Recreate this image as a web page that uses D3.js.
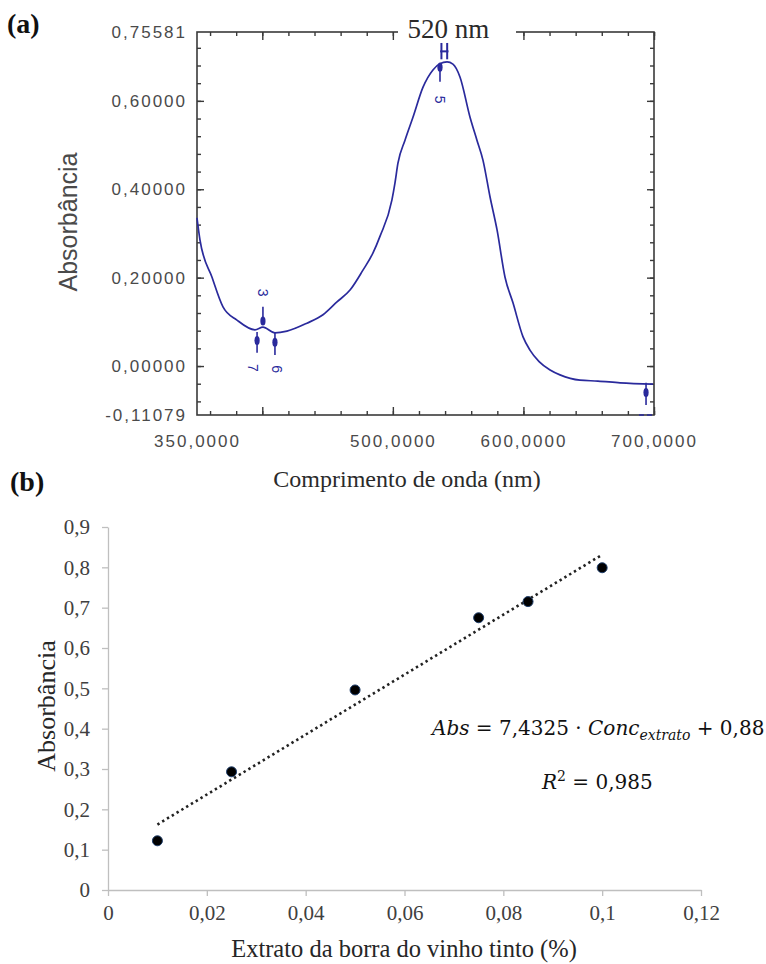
<!DOCTYPE html>
<html>
<head>
<meta charset="utf-8">
<script src="https://cdn.jsdelivr.net/npm/d3@7"></script>
<style>
  body { margin: 0; background: #fff; }
  svg { display: block; }
</style>
</head>
<body>
<svg id="chart" width="766" height="964"></svg>
<script>
// ---------- (a) UV-Vis absorption spectrum ----------
const wavelength = [350, 352.3, 361.5, 369.9, 380.6, 394.4, 400.5, 409.7, 418.9, 434.2,
  446.5, 457.2, 467.2, 477.1, 484.8, 490.2, 499.3, 501.6, 503.9, 509.3,
  515.4, 523.1, 530.7, 536, 541.5, 546, 551.4, 559.1, 564.4, 569.0,
  574.4, 579.8, 585.9, 592.0, 599.7, 605.0, 612, 620.4, 628.0, 643.3,
  657.1, 674.0, 699.2];
const absorbance = [0.335, 0.285, 0.201, 0.134, 0.104, 0.082, 0.088, 0.075, 0.079, 0.097,
  0.116, 0.145, 0.172, 0.217, 0.256, 0.294, 0.376, 0.414, 0.459, 0.511,
  0.563, 0.631, 0.670, 0.684, 0.688, 0.683, 0.654, 0.563, 0.511, 0.466,
  0.383, 0.308, 0.201, 0.143, 0.066, 0.036, 0.010, -0.009, -0.020, -0.032,
  -0.034, -0.038, -0.041];

const specXDomain = [350, 700];
const specYDomain = [-0.11079, 0.75581];
const specXTickValues = [350, 500, 600, 700];
const specXTickLabels = ["350,0000", "500,0000", "600,0000", "700,0000"];
const specYTickValues = [-0.11079, 0, 0.2, 0.4, 0.6, 0.75581];
const specYTickLabels = ["-0,11079", "0,00000", "0,20000", "0,40000", "0,60000", "0,75581"];
const specXMajor = [400, 500, 600, 700];
const specXMinor = d3.range(360, 701, 20);
const specYMajor = [0, 0.2, 0.4, 0.6];
const specYMinor = d3.range(-0.08, 0.73, 0.04);

// peak-pick markers: wavelength, arrow span (absorbance), label
const peakMarks = [
  { nm: 400.5, top: 0.134, bottom: 0.093, dot: 0.102, label: "3", labelNm: 400.5, labelAbs: 0.166 },
  { nm: 396.0, top: 0.077, bottom: 0.030, dot: 0.058, label: "7", labelNm: 392.6, labelAbs: -0.004 },
  { nm: 409.7, top: 0.075, bottom: 0.025, dot: 0.054, label: "6", labelNm: 411.5, labelAbs: -0.007 },
  { nm: 536.1, top: 0.686, bottom: 0.643, dot: 0.676, label: "5", labelNm: 536.1, labelAbs: 0.603 },
  { nm: 693.9, top: -0.038, bottom: -0.088, dot: -0.060, label: null }
];
const peakNm = "520 nm";

// ---------- (b) calibration curve ----------
const concentration = [0.01, 0.025, 0.05, 0.075, 0.085, 0.1];
const calibAbs = [0.122, 0.293, 0.496, 0.675, 0.715, 0.799];
const calibXTicks = [0, 0.02, 0.04, 0.06, 0.08, 0.1, 0.12];
const calibYTicks = [0, 0.1, 0.2, 0.3, 0.4, 0.5, 0.6, 0.7, 0.8, 0.9];
const fitSlope = 7.4325;
const fitIntercept = 0.088;
const fitRange = [0.01, 0.1];

const svg = d3.select("#chart");
const curveColor = "#2a2a9c";
const frameColor = "#3a3a3a";
const comma = d => String(d).replace(".", ",");

// ================= panel (a) =================
const xA = d3.scaleLinear().domain(specXDomain).range([197, 654]);
const yA = d3.scaleLinear().domain(specYDomain).range([415, 32]);
const gA = svg.append("g");

function tickOnly(axis, tx, ty) {
  gA.append("g")
    .attr("transform", `translate(${tx},${ty})`)
    .call(axis.tickFormat(""))
    .call(g => g.select(".domain").remove())
    .call(g => g.selectAll(".tick line").attr("stroke", frameColor).attr("stroke-width", 1.4));
}
// inward ticks on all four sides
tickOnly(d3.axisBottom(xA).tickValues(specXMinor).tickSize(-4), 0, 415);
tickOnly(d3.axisBottom(xA).tickValues(specXMajor).tickSize(-8), 0, 415);
tickOnly(d3.axisTop(xA).tickValues(specXMinor).tickSize(-4), 0, 32);
tickOnly(d3.axisTop(xA).tickValues(specXMajor).tickSize(-8), 0, 32);
tickOnly(d3.axisLeft(yA).tickValues(specYMinor).tickSize(-4), 197, 0);
tickOnly(d3.axisLeft(yA).tickValues(specYMajor).tickSize(-7), 197, 0);
tickOnly(d3.axisRight(yA).tickValues(specYMinor).tickSize(-4), 654, 0);
tickOnly(d3.axisRight(yA).tickValues(specYMajor).tickSize(-7), 654, 0);

gA.append("rect")
  .attr("x", xA(specXDomain[0])).attr("y", yA(specYDomain[1]))
  .attr("width", xA(specXDomain[1]) - xA(specXDomain[0]))
  .attr("height", yA(specYDomain[0]) - yA(specYDomain[1]))
  .attr("fill", "none").attr("stroke", frameColor).attr("stroke-width", 1.6);

// tick labels
gA.append("g")
  .attr("transform", "translate(0,415)")
  .call(d3.axisBottom(xA).tickValues(specXTickValues).tickFormat((d, i) => specXTickLabels[i])
    .tickSize(0).tickPadding(20))
  .call(g => g.select(".domain").remove())
  .call(g => g.selectAll("text").attr("font-family", "'Liberation Sans', Arial, sans-serif")
    .attr("font-size", 17).attr("letter-spacing", 2).attr("fill", "#4a4a4a"));

gA.append("g")
  .attr("transform", "translate(197,0)")
  .call(d3.axisLeft(yA).tickValues(specYTickValues).tickFormat((d, i) => specYTickLabels[i])
    .tickSize(0).tickPadding(10))
  .call(g => g.select(".domain").remove())
  .call(g => g.selectAll("text").attr("font-family", "'Liberation Sans', Arial, sans-serif")
    .attr("font-size", 17).attr("letter-spacing", 2).attr("fill", "#4a4a4a"));

// spectrum
const specData = wavelength.map((w, i) => [w, absorbance[i]]);
gA.append("path")
  .datum(specData)
  .attr("fill", "none")
  .attr("stroke", curveColor)
  .attr("stroke-width", 1.7)
  .attr("d", d3.line().x(d => xA(d[0])).y(d => yA(d[1])).curve(d3.curveMonotoneX));

// peak markers
peakMarks.forEach(m => {
  gA.append("line")
    .attr("x1", xA(m.nm)).attr("x2", xA(m.nm))
    .attr("y1", yA(m.top)).attr("y2", yA(m.bottom))
    .attr("stroke", curveColor).attr("stroke-width", 1.6);
  gA.append("ellipse")
    .attr("cx", xA(m.nm)).attr("cy", yA(m.dot))
    .attr("rx", 2.6).attr("ry", 4.5)
    .attr("fill", curveColor);
  if (m.label) {
    gA.append("text")
      .attr("transform", `translate(${xA(m.labelNm)},${yA(m.labelAbs)}) rotate(90)`)
      .attr("text-anchor", "middle").attr("dominant-baseline", "central")
      .attr("font-family", "'Liberation Sans', Arial, sans-serif")
      .attr("font-size", 14).attr("fill", curveColor)
      .text(m.label);
  }
});

// double peak tick at the maximum
[537.2, 541.6].forEach(w => {
  gA.append("line")
    .attr("x1", xA(w)).attr("x2", xA(w))
    .attr("y1", yA(0.731)).attr("y2", yA(0.694))
    .attr("stroke", curveColor).attr("stroke-width", 2);
});
gA.append("line")
  .attr("x1", xA(536.2)).attr("x2", xA(542.6))
  .attr("y1", yA(0.712)).attr("y2", yA(0.712))
  .attr("stroke", curveColor).attr("stroke-width", 2);

// short blue dashes along the lower right edge
gA.append("line")
  .attr("x1", xA(688.5)).attr("x2", xA(700))
  .attr("y1", yA(specYDomain[0])).attr("y2", yA(specYDomain[0]))
  .attr("stroke", curveColor).attr("stroke-width", 1.6).attr("stroke-dasharray", "5,3");

// peak wavelength label breaking the top frame
gA.append("rect").attr("x", 398).attr("y", 22).attr("width", 118).attr("height", 17).attr("fill", "#fff");
gA.append("text")
  .attr("x", 448.5).attr("y", 38)
  .attr("text-anchor", "middle")
  .attr("font-family", "'Liberation Serif', 'Times New Roman', serif")
  .attr("font-size", 27).attr("fill", "#2a2a2a")
  .text(peakNm);

// titles
gA.append("text")
  .attr("transform", "translate(68,222) rotate(-90)")
  .attr("text-anchor", "middle").attr("dominant-baseline", "central")
  .attr("font-family", "'Liberation Sans', Arial, sans-serif")
  .attr("font-size", 25).attr("fill", "#4a4a4a")
  .text("Absorbância");
gA.append("text")
  .attr("x", 407).attr("y", 487)
  .attr("text-anchor", "middle")
  .attr("font-family", "'Liberation Serif', 'Times New Roman', serif")
  .attr("font-size", 24).attr("fill", "#2a2a2a")
  .text("Comprimento de onda (nm)");
gA.append("text")
  .attr("x", 7).attr("y", 33)
  .attr("font-family", "'Liberation Serif', 'Times New Roman', serif")
  .attr("font-weight", "bold")
  .attr("font-size", 28).attr("fill", "#111")
  .text("(a)");

// ================= panel (b) =================
const xB = d3.scaleLinear().domain([0, 0.12]).range([108, 701]);
const yB = d3.scaleLinear().domain([0, 0.9]).range([890, 527]);
const gB = svg.append("g");
const axisGrey = "#bfbfbf";
const serif = "'Liberation Serif', 'Times New Roman', serif";

gB.append("g")
  .attr("transform", "translate(0,890)")
  .call(d3.axisBottom(xB).tickValues(calibXTicks).tickFormat(comma).tickSize(6).tickSizeOuter(0).tickPadding(9))
  .call(g => g.select(".domain").attr("stroke", axisGrey).attr("stroke-width", 1.3))
  .call(g => g.selectAll(".tick line").attr("stroke", axisGrey).attr("stroke-width", 1.3))
  .call(g => g.selectAll("text").attr("font-family", serif).attr("font-size", 21).attr("fill", "#404040"));

gB.append("g")
  .attr("transform", "translate(108,0)")
  .call(d3.axisLeft(yB).tickValues(calibYTicks).tickFormat(comma).tickSize(6).tickSizeOuter(0).tickPadding(12))
  .call(g => g.select(".domain").attr("stroke", axisGrey).attr("stroke-width", 1.3))
  .call(g => g.selectAll(".tick line").attr("stroke", axisGrey).attr("stroke-width", 1.3))
  .call(g => g.selectAll("text").attr("font-family", serif).attr("font-size", 21).attr("fill", "#404040"));

// linear fit (dotted)
gB.append("line")
  .attr("x1", xB(fitRange[0])).attr("y1", yB(fitSlope * fitRange[0] + fitIntercept))
  .attr("x2", xB(fitRange[1])).attr("y2", yB(fitSlope * fitRange[1] + fitIntercept))
  .attr("stroke", "#222").attr("stroke-width", 2.6)
  .attr("stroke-dasharray", "2.4,3.2");

// measured points
gB.selectAll("circle.pt")
  .data(concentration.map((c, i) => [c, calibAbs[i]]))
  .join("circle")
  .attr("class", "pt")
  .attr("cx", d => xB(d[0])).attr("cy", d => yB(d[1]))
  .attr("r", 5)
  .attr("fill", "#000")
  .attr("stroke", "#1d3d6b").attr("stroke-width", 1);

// equation and R²
const eq = gB.append("text")
  .attr("x", 432).attr("y", 735)
  .attr("font-family", "'DejaVu Serif', serif")
  .attr("font-size", 20).attr("fill", "#111");
eq.append("tspan").attr("font-style", "italic").text("Abs");
eq.append("tspan").text(" = 7,4325 · ");
eq.append("tspan").attr("font-style", "italic").text("Conc");
eq.append("tspan").attr("font-style", "italic").attr("font-size", 14).attr("dy", 5).text("extrato");
eq.append("tspan").attr("dy", -5).text(" + 0,88");

const r2 = gB.append("text")
  .attr("x", 542).attr("y", 789)
  .attr("font-family", "'DejaVu Serif', serif")
  .attr("font-size", 20).attr("fill", "#111");
r2.append("tspan").attr("font-style", "italic").text("R");
r2.append("tspan").attr("font-size", 14).attr("dy", -8).text("2");
r2.append("tspan").attr("dy", 8).text(" = 0,985");

// titles
gB.append("text")
  .attr("transform", "translate(46,706) rotate(-90)")
  .attr("text-anchor", "middle").attr("dominant-baseline", "central")
  .attr("font-family", serif).attr("font-size", 26).attr("fill", "#262626")
  .text("Absorbância");
gB.append("text")
  .attr("x", 404).attr("y", 957)
  .attr("text-anchor", "middle")
  .attr("font-family", serif).attr("font-size", 24.5).attr("fill", "#262626")
  .text("Extrato da borra do vinho tinto (%)");
gB.append("text")
  .attr("x", 10).attr("y", 491)
  .attr("font-family", serif).attr("font-weight", "bold")
  .attr("font-size", 28).attr("fill", "#111")
  .text("(b)");
</script>
</body>
</html>
